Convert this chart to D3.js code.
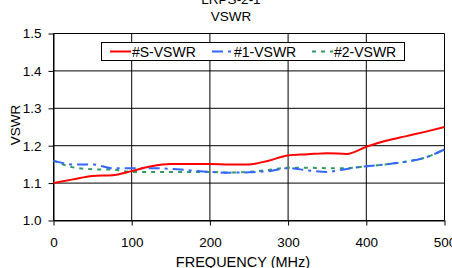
<!DOCTYPE html>
<html>
<head>
<meta charset="utf-8">
<script src="https://cdn.jsdelivr.net/npm/d3@7"></script>
<style>
  body { margin: 0; background: #fff; }
  text { font-family: "Liberation Sans", Arial, sans-serif; fill: #000; }
</style>
</head>
<body>
<script>
// frequencies (MHz) and VSWR readings for the three ports
const freq = [0, 25, 50, 75, 100, 125, 150, 175, 200, 225, 250, 275, 300, 325, 350, 375, 400, 425, 450, 475, 500];
const vswrS = [1.100, 1.110, 1.119, 1.121, 1.132, 1.145, 1.151, 1.151, 1.151, 1.150, 1.150, 1.160, 1.174, 1.177, 1.180, 1.178, 1.197, 1.213, 1.225, 1.237, 1.250];
const vswr1 = [1.160, 1.150, 1.150, 1.140, 1.140, 1.140, 1.138, 1.134, 1.130, 1.128, 1.129, 1.132, 1.140, 1.134, 1.130, 1.138, 1.145, 1.150, 1.157, 1.168, 1.190];
const vswr2 = [1.160, 1.142, 1.137, 1.136, 1.130, 1.130, 1.130, 1.130, 1.130, 1.128, 1.130, 1.135, 1.141, 1.141, 1.140, 1.140, 1.145, 1.150, 1.157, 1.168, 1.190];
const seriesNames = ["#S-VSWR", "#1-VSWR", "#2-VSWR"];
const xTicks = [0, 100, 200, 300, 400, 500];
const yTicks = [1.0, 1.1, 1.2, 1.3, 1.4, 1.5];

const W = 452, H = 268;
const margin = { top: 33.5, right: 7.5, bottom: 47.5, left: 53.5 };
const width = W - margin.left - margin.right,
      height = H - margin.top - margin.bottom;

const svg = d3.select("body").append("svg").attr("width", W).attr("height", H);

const x = d3.scaleLinear().domain([0, 500]).range([margin.left, margin.left + width]);
const y = d3.scaleLinear().domain([1.0, 1.5]).range([margin.top + height, margin.top]);

// grid
svg.append("g").selectAll("line").data(yTicks).join("line")
   .attr("x1", x(0)).attr("x2", x(500))
   .attr("y1", d => y(d)).attr("y2", d => y(d))
   .attr("stroke", "#000").attr("stroke-width", 1);
svg.append("g").selectAll("line").data(xTicks).join("line")
   .attr("x1", d => x(d)).attr("x2", d => x(d))
   .attr("y1", y(1.0)).attr("y2", y(1.5))
   .attr("stroke", "#000").attr("stroke-width", 1);

// axes
const xAxis = svg.append("g").attr("transform", `translate(0,${y(1.0)})`)
   .call(d3.axisBottom(x).tickValues(xTicks).tickSize(5).tickSizeOuter(0).tickPadding(12));
const yAxis = svg.append("g").attr("transform", `translate(${x(0)},0)`)
   .call(d3.axisLeft(y).tickValues(yTicks).tickFormat(d3.format(".1f")).tickSize(5).tickSizeOuter(0).tickPadding(7));
[xAxis, yAxis].forEach(a => {
  a.select(".domain").attr("stroke", "#000");
  a.selectAll(".tick line").attr("stroke", "#000");
  a.selectAll("text").style("font-size", "13.5px").style("font-family", "Liberation Sans, Arial, sans-serif").attr("fill", "#000");
});

// series
const series = [
  { name: seriesNames[0], values: vswrS, color: "#ff0000", dash: null },
  { name: seriesNames[1], values: vswr1, color: "#3366ff", dash: "11,5,3,5" },
  { name: seriesNames[2], values: vswr2, color: "#339966", dash: "4,5" }
];

const line = d3.line().x((d, i) => x(freq[i])).y(d => y(d)).curve(d3.curveMonotoneX);

svg.append("g").selectAll("path").data(series.slice().reverse()).join("path")
   .attr("d", d => line(d.values))
   .attr("fill", "none")
   .attr("stroke", d => d.color)
   .attr("stroke-width", 2)
   .attr("stroke-dasharray", d => d.dash);

// titles
svg.append("text").attr("x", 231).attr("y", 4).attr("text-anchor", "middle")
   .style("font-size", "13.5px").text("LRPS-2-1");
svg.append("text").attr("x", 231).attr("y", 21).attr("text-anchor", "middle")
   .style("font-size", "13.5px").text("VSWR");
svg.append("text").attr("x", 243).attr("y", 267).attr("text-anchor", "middle")
   .style("font-size", "14.5px").text("FREQUENCY (MHz)");
svg.append("text").attr("transform", `translate(20,${(y(1.0) + y(1.5)) / 2 - 2}) rotate(-90)`)
   .attr("text-anchor", "middle").style("font-size", "13.5px").text("VSWR");

// legend
const lg = svg.append("g");
lg.append("rect").attr("x", 101.5).attr("y", 42.5).attr("width", 303).attr("height", 18)
  .attr("fill", "#fff").attr("stroke", "#000").attr("stroke-width", 1);
const legendX = [110, 212, 312];
const item = lg.selectAll("g.item").data(series).join("g").attr("class", "item")
  .attr("transform", (d, i) => `translate(${legendX[i]},0)`);
item.append("line").attr("x1", 0).attr("x2", 21).attr("y1", 51.5).attr("y2", 51.5)
  .attr("stroke", d => d.color).attr("stroke-width", 2).attr("stroke-dasharray", d => d.dash);
item.append("text").attr("x", 22).attr("y", 56.5).style("font-size", "14px").text(d => d.name);
</script>
</body>
</html>
